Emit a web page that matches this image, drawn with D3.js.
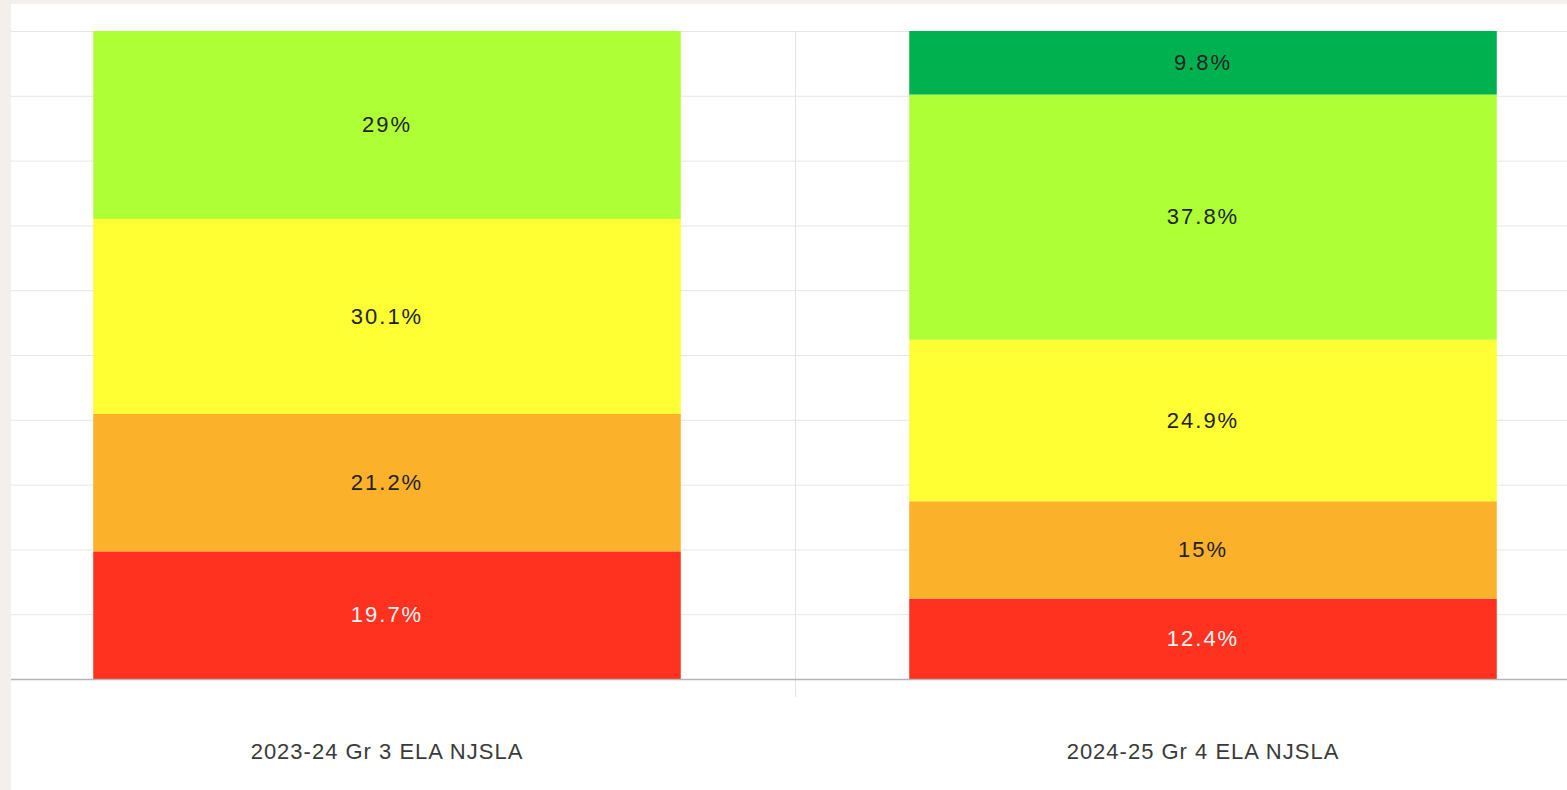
<!DOCTYPE html>
<html>
<head>
<meta charset="utf-8">
<script src="https://cdn.jsdelivr.net/npm/d3@7"></script>
<style>
  html, body { margin: 0; padding: 0; background: #f3f0eb; }
  text { font-family: "Liberation Sans", Arial, Helvetica, sans-serif; }
</style>
</head>
<body>
<div id="chart"></div>
<script>
// data (percent of students per level, bottom -> top)
var categories = ["2023-24 Gr 3 ELA NJSLA", "2024-25 Gr 4 ELA NJSLA"];
var levels = ["L1", "L2", "L3", "L4", "L5"];
var level1 = [19.7, 12.4];
var level2 = [21.2, 15];
var level3 = [30.1, 24.9];
var level4 = [29, 37.8];
var level5 = [0, 9.8];
var colors = ["#ff3220", "#fcb12b", "#ffff33", "#aeff36", "#00b24f"];
var labelColors = ["#f4f4f4", "#222", "#222", "#222", "#222"];
var yTicks = [0, 10, 20, 30, 40, 50, 60, 70, 80, 90, 100];

var W = 1567, H = 790;

var svg = d3.select("#chart").append("svg")
  .attr("width", W)
  .attr("height", H);

// white panel
svg.append("rect")
  .attr("x", 11).attr("y", 4)
  .attr("width", W - 11).attr("height", H - 4)
  .attr("fill", "#fff");

var x = d3.scaleBand()
  .domain(categories)
  .range([-21, 1611])
  .padding(0);

var barW = x.bandwidth() * 0.72;
var barOff = x.bandwidth() * 0.14;

var y = d3.scaleLinear()
  .domain([0, 100])
  .range([679, 31]);

// build the table for d3.stack, normalised to 100%
var table = categories.map(function(c, i) {
  var row = {cat: c};
  var vals = [level1[i], level2[i], level3[i], level4[i], level5[i]];
  var tot = d3.sum(vals);
  levels.forEach(function(k, j) { row[k] = vals[j] / tot * 100; row[k + "_raw"] = vals[j]; });
  return row;
});

var series = d3.stack().keys(levels)(table);

// horizontal grid
var grid = svg.append("g");
grid.selectAll("line")
  .data(yTicks.filter(function(t) { return t > 0; }))
  .enter().append("line")
  .attr("x1", 11).attr("x2", W)
  .attr("y1", function(d) { return y(d) + 0.5; })
  .attr("y2", function(d) { return y(d) + 0.5; })
  .attr("stroke", "#e6e6e6")
  .attr("stroke-width", 1);

// vertical separator between categories
grid.selectAll("line.sep")
  .data(categories.slice(1))
  .enter().append("line")
  .attr("class", "sep")
  .attr("x1", function(d) { return Math.round(x(d)) + 0.5; })
  .attr("x2", function(d) { return Math.round(x(d)) + 0.5; })
  .attr("y1", y(100)).attr("y2", 697)
  .attr("stroke", "#e3e3e3");

// bars
var layer = svg.append("g").selectAll("g")
  .data(series)
  .enter().append("g")
  .attr("fill", function(d, i) { return colors[i]; });

layer.selectAll("rect")
  .data(function(d) { return d; })
  .enter().append("rect")
  .attr("x", function(d) { return x(d.data.cat) + barOff; })
  .attr("width", barW)
  .attr("y", function(d) { return y(d[1]); })
  .attr("height", function(d) { return y(d[0]) - y(d[1]); });

// value labels
series.forEach(function(s, i) {
  svg.append("g").selectAll("text")
    .data(s.filter(function(d) { return d.data[s.key + "_raw"] > 0; }))
    .enter().append("text")
    .attr("x", function(d) { return x(d.data.cat) + x.bandwidth() / 2; })
    .attr("y", function(d) { return (y(d[0]) + y(d[1])) / 2; })
    .attr("dy", "0.33em")
    .attr("text-anchor", "middle")
    .attr("font-size", 22)
    .attr("letter-spacing", 2)
    .attr("fill", labelColors[i])
    .text(function(d) { return d.data[s.key + "_raw"] + "%"; });
});

// x axis line
svg.append("line")
  .attr("x1", 11).attr("x2", W)
  .attr("y1", y(0) + 0.5).attr("y2", y(0) + 0.5)
  .attr("stroke", "#b3b3b3")
  .attr("stroke-width", 1.5);

// category labels
svg.append("g").selectAll("text")
  .data(categories)
  .enter().append("text")
  .attr("x", function(d) { return x(d) + x.bandwidth() / 2; })
  .attr("y", 751)
  .attr("dy", "0.35em")
  .attr("text-anchor", "middle")
  .attr("font-size", 22)
  .attr("letter-spacing", 1)
  .attr("fill", "#3a3a3a")
  .text(function(d) { return d; });
</script>
</body>
</html>
